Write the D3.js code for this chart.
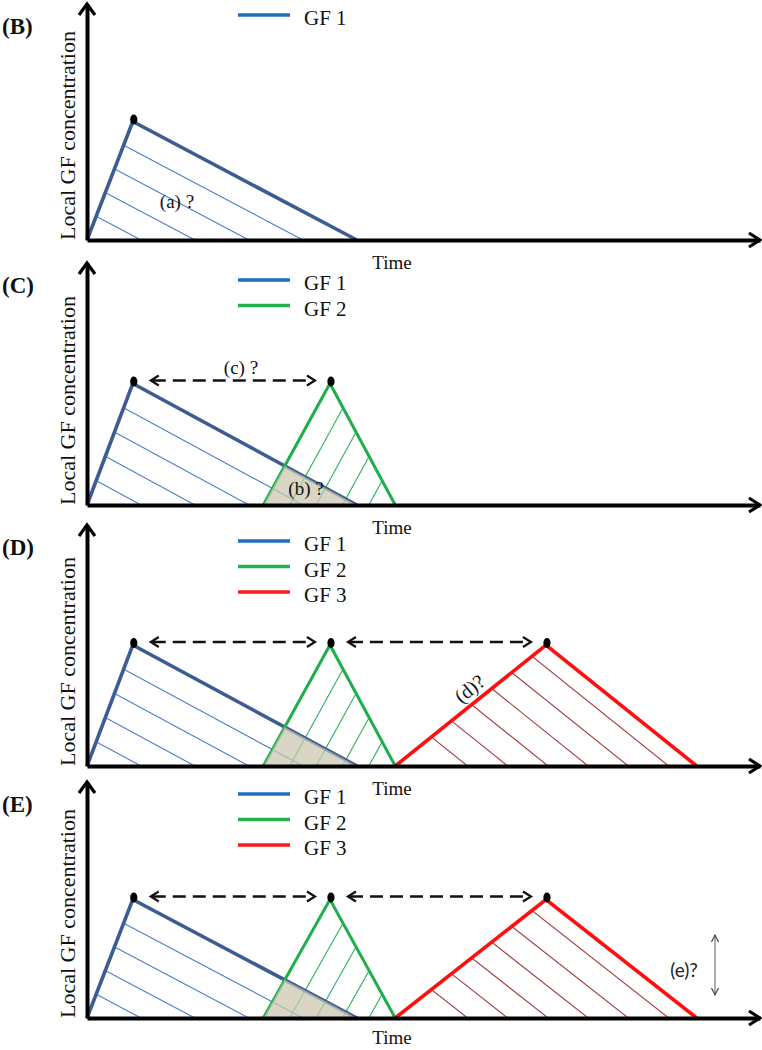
<!DOCTYPE html>
<html><head><meta charset="utf-8">
<script src="https://cdn.jsdelivr.net/npm/d3@7"></script>
<style>
html,body{margin:0;padding:0;background:#fff;}
svg{display:block;}
</style></head>
<body>
<script>
// ---------------- data ----------------
const panelLabels = ["(B)", "(C)", "(D)", "(E)"];
const panelSeriesCount = [1, 2, 3, 3];          // how many GFs shown in each panel
const seriesNames = ["GF 1", "GF 2", "GF 3"];
const startTimes = [0, 26.2, 45.8];              // time units (0..100 axis)
const peakTimes  = [6.8, 36.1, 68.2];
const endTimes   = [40.1, 45.8, 90.6];
const peakConc   = [0.5, 0.5, 0.5];              // relative concentration (0..1 axis)
const hatchFracs = [[0.2, 0.4, 0.6, 0.8], [0.2, 0.4, 0.6, 0.8], [0.24, 0.373, 0.507, 0.64, 0.773, 0.907]];
const xLabel = "Time";
const yLabel = "Local GF concentration";
const annotA = "(a) ?", annotB = "(b) ?", annotC = "(c) ?", annotD = "(d)?", annotE = "(e)?";

// ---------------- layout / style ----------------
const W = 762, H = 1050;
const panelTop  = [3, 262, 524, 781];
const panelBase = [240, 505, 766, 1018];
const legendY   = [15, 280, 541, 794];
const lineColors  = ["#3d5d92", "#1fae4c", "#ff1010"];
const legendColors = ["#1f6fc0", "#22b14c", "#ff1a1a"];
const hatchColors = ["#4a7ccc", "#2db25a", "#a53a3a"];
const serif = "'Liberation Serif','Times New Roman',serif";

const svg = d3.select("body").append("svg").attr("width", W).attr("height", H);
const defs = svg.append("defs");
const x = d3.scaleLinear().domain([0, 100]).range([87, 760]);

function lineIntersect(p1, p2, p3, p4) {
  const d = (p1[0]-p2[0])*(p3[1]-p4[1]) - (p1[1]-p2[1])*(p3[0]-p4[0]);
  const t = ((p1[0]-p3[0])*(p3[1]-p4[1]) - (p1[1]-p3[1])*(p3[0]-p4[0])) / d;
  return [p1[0] + t*(p2[0]-p1[0]), p1[1] + t*(p2[1]-p1[1])];
}

panelLabels.forEach((lab, pi) => {
  const base = panelBase[pi], top = panelTop[pi];
  const y = d3.scaleLinear().domain([0, 1]).range([base, top]);
  const g = svg.append("g");
  const n = panelSeriesCount[pi];
  const tri = d3.range(n).map(s => [
    [x(startTimes[s]), y(0)], [x(peakTimes[s]), y(peakConc[s])], [x(endTimes[s]), y(0)]
  ]);

  // hatching (clipped to triangles)
  tri.forEach((t, s) => {
    const id = `clip${pi}_${s}`;
    defs.append("clipPath").attr("id", id).append("path").attr("d", d3.line()(t) + "Z");
    const edge = s === 1 ? [t[0], t[1]] : [t[2], t[1]];
    const dx = edge[1][0] - edge[0][0], dy = edge[1][1] - edge[0][1];
    const len = Math.hypot(dx, dy), ux = dx/len, uy = dy/len;
    const w = t[2][0] - t[0][0];
    const hg = g.append("g").attr("clip-path", `url(#${id})`);
    hatchFracs[s].forEach(f => {
      const bx = t[0][0] + f*w;
      hg.append("line").attr("x1", bx - ux*5).attr("y1", base - uy*5)
        .attr("x2", bx + ux*400).attr("y2", base + uy*400)
        .attr("stroke", hatchColors[s]).attr("stroke-width", 1.1);
    });
  });

  // thick outlines
  tri.forEach((t, s) => {
    g.append("path").attr("d", d3.line()(t)).attr("fill", "none")
      .attr("stroke", lineColors[s]).attr("stroke-width", s === 1 ? 3 : 3.6)
      .attr("stroke-linejoin", "miter");
  });

  // overlap shading between GF1 and GF2
  if (n >= 2) {
    const ip = lineIntersect(tri[0][1], tri[0][2], tri[1][0], tri[1][1]);
    g.append("path").attr("d", d3.line()([tri[1][0], ip, tri[0][2]]) + "Z")
      .attr("fill", "#cbc6ae").attr("opacity", 0.72);
  }

  // axes
  const xAxis = d3.axisBottom(x).tickValues([]).tickSizeOuter(0);
  const ya = d3.scaleLinear().domain([0, 1]).range([base, top + 1]);
  g.append("g").attr("transform", `translate(0,${base})`).call(xAxis)
    .select(".domain").attr("stroke", "#000").attr("stroke-width", 4);
  g.append("g").attr("transform", `translate(${x(0)},0)`).call(d3.axisLeft(ya).tickValues([]).tickSizeOuter(0))
    .select(".domain").attr("stroke", "#000").attr("stroke-width", 4);
  g.append("path").attr("d", `M${x(0)-8},${top+12} L${x(0)},${top+1} L${x(0)+8},${top+12}`)
    .attr("fill", "none").attr("stroke", "#000").attr("stroke-width", 3.2);
  g.append("path").attr("d", `M${x(100)-11},${base-7} L${x(100)},${base} L${x(100)-11},${base+7}`)
    .attr("fill", "none").attr("stroke", "#000").attr("stroke-width", 3.2);

  // peak dots
  tri.forEach(t => {
    g.append("ellipse").attr("cx", t[1][0] + 1).attr("cy", t[1][1] - 2)
      .attr("rx", 3.6).attr("ry", 5).attr("fill", "#000");
  });

  // dashed double arrows between peaks
  for (let s = 0; s < n - 1; s++) {
    const x1 = tri[s][1][0] + 18, x2 = tri[s+1][1][0] - 15;
    const ay = tri[s][1][1] - 3;
    g.append("line").attr("x1", x1 + 2).attr("x2", x2 - 2).attr("y1", ay).attr("y2", ay)
      .attr("stroke", "#111").attr("stroke-width", 2.4).attr("stroke-dasharray", "13,7");
    g.append("path").attr("d", `M${x1+8},${ay-5} L${x1},${ay} L${x1+8},${ay+5}`)
      .attr("fill", "none").attr("stroke", "#111").attr("stroke-width", 2.2);
    g.append("path").attr("d", `M${x2-8},${ay-5} L${x2},${ay} L${x2-8},${ay+5}`)
      .attr("fill", "none").attr("stroke", "#111").attr("stroke-width", 2.2);
  }

  // legend
  d3.range(n).forEach(s => {
    const ly = legendY[pi] + s * 25.5;
    g.append("line").attr("x1", 238).attr("x2", 290).attr("y1", ly).attr("y2", ly)
      .attr("stroke", legendColors[s]).attr("stroke-width", 3.5);
    g.append("text").attr("x", 304).attr("y", ly + 10).text(seriesNames[s])
      .attr("font-family", serif).attr("font-size", 21).attr("fill", "#111");
  });

  // panel letter
  g.append("text").attr("x", 2).attr("y", top + 31).text(lab)
    .attr("font-family", serif).attr("font-size", 23).attr("font-weight", "bold").attr("fill", "#111");

  // axis labels
  g.append("text").attr("transform", `translate(75,${base}) rotate(-90)`)
    .attr("text-anchor", "start").text(yLabel)
    .attr("font-family", serif).attr("font-size", 22).attr("fill", "#111");
  g.append("text").attr("x", 392).attr("y", base + (pi === 3 ? 26 : 29)).attr("text-anchor", "middle").text(xLabel)
    .attr("font-family", serif).attr("font-size", 19).attr("fill", "#111");

  // annotations
  const fs = { "font-family": serif, "font-size": 19, "fill": "#111" };
  function txt(sel, attrs) { Object.entries(attrs).forEach(([k, v]) => sel.attr(k, v)); return sel; }
  if (pi === 0) {
    txt(g.append("text").attr("x", 177).attr("y", base - 32).attr("text-anchor", "middle").text(annotA), fs);
  }
  if (pi === 1) {
    txt(g.append("text").attr("x", 306).attr("y", base - 10).attr("text-anchor", "middle").text(annotB), fs);
    txt(g.append("text").attr("x", 241).attr("y", tri[0][1][1] - 10).attr("text-anchor", "middle").text(annotC), fs);
  }
  if (pi === 2) {
    const t = tri[2];
    const mx = t[0][0] + 0.55*(t[1][0]-t[0][0]), my = t[0][1] + 0.55*(t[1][1]-t[0][1]);
    const ang = Math.atan2(t[1][1]-t[0][1], t[1][0]-t[0][0]) * 180 / Math.PI;
    txt(g.append("text").attr("transform", `translate(${mx},${my}) rotate(${ang})`)
      .attr("y", -7).attr("text-anchor", "middle").text(annotD), fs).attr("font-size", 20);
  }
  if (pi === 3) {
    g.append("text").attr("x", 684).attr("y", base - 41).attr("text-anchor", "middle").text(annotE)
      .attr("font-family", "Lato, 'Open Sans', sans-serif").attr("font-size", 19).attr("fill", "#222");
    const ax = 715, ay1 = base - 83, ay2 = base - 23;
    g.append("line").attr("x1", ax).attr("x2", ax).attr("y1", ay1).attr("y2", ay2)
      .attr("stroke", "#777").attr("stroke-width", 1.2);
    g.append("path").attr("d", `M${ax-3.5},${ay1+7} L${ax},${ay1} L${ax+3.5},${ay1+7}`)
      .attr("fill", "none").attr("stroke", "#444").attr("stroke-width", 1.2);
    g.append("path").attr("d", `M${ax-3.5},${ay2-7} L${ax},${ay2} L${ax+3.5},${ay2-7}`)
      .attr("fill", "none").attr("stroke", "#444").attr("stroke-width", 1.2);
  }
});
</script>
</body></html>
